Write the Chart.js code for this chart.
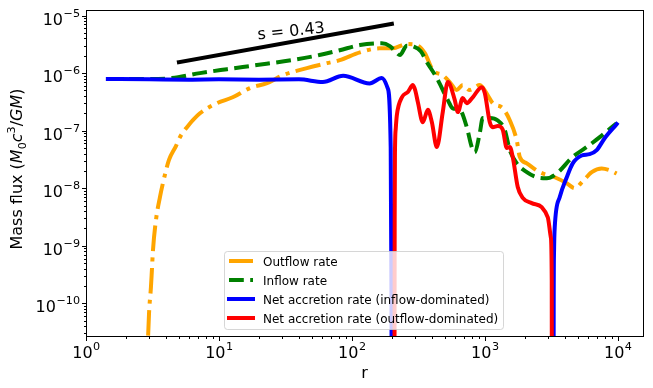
<!DOCTYPE html>
<html>
<head>
<meta charset="utf-8">
<script src="https://cdn.jsdelivr.net/npm/chart.js@4.4.0/dist/chart.umd.min.js"></script>
<style>
  html, body { margin: 0; padding: 0; background: #fff; }
  #wrap { width: 653px; height: 388px; }
</style>
</head>
<body>
<div id="wrap"><canvas id="fluxChart"></canvas></div>
<script>
// values (r, mass flux in M0 c^3 / GM)
const outflowR = [2.86, 2.98, 3.08, 3.13, 3.19, 3.36, 3.6, 3.79, 4.21, 4.75, 5.09, 5.75, 7.2, 9.66, 12.7, 17.1, 23, 30.3, 45.9, 64.9, 81, 115, 162, 203, 259, 308, 354, 406, 483, 545, 615, 683, 771, 917, 1054, 1148, 1366, 1542, 1740, 1833, 2070, 2590, 3360, 4140, 4750, 5460, 6380, 7580, 8710, 9820];
const outflowRate = [5e-12, 6.7e-11, 1.9e-10, 3.7e-10, 8.3e-10, 2.8e-9, 7e-9, 1.22e-8, 3.1e-8, 5.4e-8, 7.7e-8, 1.15e-7, 2.0e-7, 3.0e-7, 3.8e-7, 5.5e-7, 6.7e-7, 9.2e-7, 1.22e-6, 1.49e-6, 1.68e-6, 2.3e-6, 2.7e-6, 2.7e-6, 3.2e-6, 3.07e-6, 2.23e-6, 1.13e-6, 9.2e-7, 7e-7, 5.1e-7, 6.2e-7, 5.1e-7, 6.2e-7, 4.1e-7, 3.0e-7, 2.45e-7, 1.52e-7, 6.8e-8, 3.5e-8, 2.7e-8, 1.9e-8, 1.55e-8, 1.22e-8, 1.0e-8, 1.32e-8, 1.9e-8, 2.2e-8, 2.05e-8, 1.8e-8];

const inflowR = [1.46, 3.0, 4.43, 7.2, 11.5, 19.3, 35, 57, 81, 115, 168, 193, 215, 230, 259, 290, 330, 367, 436, 527, 574, 649, 732, 798, 841, 917, 966, 1091, 1253, 1414, 1542, 1740, 2070, 2460, 2925, 3475, 4590, 5850, 7330, 9820];
const inflowRate = [7.9e-7, 7.9e-7, 8.2e-7, 1.0e-6, 1.17e-6, 1.38e-6, 1.68e-6, 2.06e-6, 2.5e-6, 3.07e-6, 3.3e-6, 2.95e-6, 2.3e-6, 2.06e-6, 3.0e-6, 2.9e-6, 2.4e-6, 1.55e-6, 8.2e-7, 3.4e-7, 2.45e-7, 2.3e-7, 1.15e-7, 5.2e-8, 4.2e-8, 9.1e-8, 1.66e-7, 1.66e-7, 1.5e-7, 1.03e-7, 4.6e-8, 2.7e-8, 1.9e-8, 1.55e-8, 1.49e-8, 1.8e-8, 3.5e-8, 5.2e-8, 7.7e-8, 1.35e-7];

// net accretion, inflow-dominated (null = masked where net < 0)
const netInR = [1.46, 3, 6, 10, 20, 40, 60.5, 86, 136, 168, 186, 196, 198.7, 199.5, 1000, 3290, 3300, 3320, 3360, 3665, 4140, 4590, 5360, 6150, 6950, 7980, 9820];
const netInRate = [7.9e-7, 7.8e-7, 7.7e-7, 7.8e-7, 7.7e-7, 7.8e-7, 7.0e-7, 9.0e-7, 6.6e-7, 8.2e-7, 5.5e-7, 5e-8, 1e-10, 1e-13, null, 1e-13, 1e-10, 8e-10, 2.1e-9, 7e-9, 1.55e-8, 2.7e-8, 3.7e-8, 3.9e-8, 4.6e-8, 7.4e-8, 1.3e-7];

// net accretion, outflow-dominated
const netOutR = [209, 210, 211, 214, 218, 238, 264, 288, 300, 314, 342, 373, 400, 436, 483, 527, 595, 627, 683, 732, 812, 949, 1000, 1091, 1148, 1253, 1366, 1464, 1542, 1623, 1770, 1930, 2256, 2680, 2980, 3140, 3190, 3200];
const netOutRate = [1e-13, 3e-9, 4e-8, 1.1e-7, 1.86e-7, 3.8e-7, 4.7e-7, 6.2e-7, 5.0e-7, 3.1e-7, 1.4e-7, 2.3e-7, 1.4e-7, 5.2e-8, 2.1e-7, 7e-7, 3.4e-7, 2.1e-7, 3.7e-7, 3.0e-7, 3.8e-7, 5.7e-7, 4.5e-7, 1.4e-7, 1.15e-7, 1.2e-7, 1.03e-7, 5e-8, 5.2e-8, 3.5e-8, 1.05e-8, 6.8e-9, 5.5e-9, 4.7e-9, 3.1e-9, 1.4e-9, 2.5e-10, 1e-13];

// reference power-law segment
const slopeR = [5, 200];
const slopeVal = [1.55e-6, 7.2e-6];
const slopeLabel = 's = 0.43';

const xTickExps = [0, 1, 2, 3, 4];
const yTickExps = [-10, -9, -8, -7, -6, -5];
const seriesNames = ['Outflow rate', 'Inflow rate', 'Net accretion rate (inflow-dominated)', 'Net accretion rate (outflow-dominated)'];

const FONT = '"DejaVu Sans"';
const dashOut = [25.6, 6.4, 4, 6.4];
const dashIn = [14.8, 6.4];

function toPoints(rs, vals) {
    return rs.map((r, i) => ({ x: r, y: vals[i] }));
}

function powLabel(ctx, exp, px, baseY, align) {
    const base = '10';
    const sup = exp < 0 ? '\u2212' + (-exp) : String(exp);
    ctx.font = '16px ' + FONT;
    const wb = ctx.measureText(base).width;
    ctx.font = '11.2px ' + FONT;
    const ws = ctx.measureText(sup).width;
    const x0 = align === 'center' ? px - (wb + ws) / 2 : px - (wb + ws);
    ctx.textAlign = 'left';
    ctx.textBaseline = 'alphabetic';
    ctx.font = '16px ' + FONT;
    ctx.fillText(base, x0, baseY);
    ctx.font = '11.2px ' + FONT;
    ctx.fillText(sup, x0 + wb + 0.5, baseY - 8);
}

const axesDecor = {
    id: 'axesDecor',
    afterDatasetsDraw(chart) {
        const { ctx, chartArea: a, scales: { x, y } } = chart;
        ctx.save();
        ctx.fillStyle = '#000';
        ctx.strokeStyle = '#000';
        ctx.lineWidth = 1;
        ctx.setLineDash([]);

        // frame
        ctx.strokeRect(a.left + 0.5, a.top + 0.5, a.right - a.left, a.bottom - a.top);

        // tick marks
        const tick = (x1, y1, x2, y2) => {
            ctx.beginPath(); ctx.moveTo(x1, y1); ctx.lineTo(x2, y2); ctx.stroke();
        };
        for (let e = -1; e <= 4; e++) {
            for (let k = 1; k < 10; k++) {
                const v = k * Math.pow(10, e);
                if (v < x.min || v > x.max) continue;
                const px = Math.round(x.getPixelForValue(v)) + 0.5;
                tick(px, a.bottom + 1, px, a.bottom + 1 + (k === 1 ? 4 : 2));
            }
        }
        for (let e = -11; e <= -5; e++) {
            for (let k = 1; k < 10; k++) {
                const v = k * Math.pow(10, e);
                if (v < y.min || v > y.max) continue;
                const py = Math.round(y.getPixelForValue(v)) + 0.5;
                tick(a.left, py, a.left - (k === 1 ? 4 : 2), py);
            }
        }

        // tick labels
        xTickExps.forEach(e => powLabel(ctx, e, x.getPixelForValue(Math.pow(10, e)), a.bottom + 22, 'center'));
        yTickExps.forEach(e => powLabel(ctx, e, a.left - 6.5, y.getPixelForValue(Math.pow(10, e)) + 9, 'right'));

        // x title
        ctx.font = '16px ' + FONT;
        ctx.textAlign = 'center';
        ctx.fillText('r', (a.left + a.right) / 2, 378);

        // y title with math parts
        const parts = [
            { t: 'Mass flux (', f: '16px', dy: 0 },
            { t: 'M', f: 'italic 16px', dy: 0 },
            { t: '0', f: '11.2px', dy: 3.5 },
            { t: 'c', f: 'italic 16px', dy: 0 },
            { t: '3', f: '11.2px', dy: -7 },
            { t: '/', f: '16px', dy: 0 },
            { t: 'GM', f: 'italic 16px', dy: 0 },
            { t: ')', f: '16px', dy: 0 }
        ];
        let total = 0;
        parts.forEach(p => { ctx.font = p.f + ' ' + FONT; p.w = ctx.measureText(p.t).width; total += p.w; });
        ctx.save();
        ctx.translate(22, 169);
        ctx.rotate(-Math.PI / 2);
        ctx.textAlign = 'left';
        let cx = -total / 2;
        parts.forEach(p => { ctx.font = p.f + ' ' + FONT; ctx.fillText(p.t, cx, p.dy); cx += p.w; });
        ctx.restore();

        // slope annotation
        ctx.save();
        ctx.translate(258, 39.5);
        ctx.rotate(-6 * Math.PI / 180);
        ctx.font = '16px ' + FONT;
        ctx.textAlign = 'left';
        ctx.fillText(slopeLabel, 0, 0);
        ctx.restore();

        // legend
        const lx = 224.5, ly = 251.5, lw = 279, lh = 78;
        ctx.beginPath();
        ctx.roundRect(lx, ly, lw, lh, 3);
        ctx.fillStyle = 'rgba(255,255,255,0.8)';
        ctx.fill();
        ctx.strokeStyle = 'rgba(204,204,204,0.8)';
        ctx.stroke();
        const styles = [
            { c: 'orange', d: dashOut, cap: 'butt' },
            { c: 'green', d: dashIn, cap: 'butt' },
            { c: 'blue', d: [], cap: 'square' },
            { c: 'red', d: [], cap: 'square' }
        ];
        styles.forEach((s, i) => {
            const ry = 261 + i * 19;
            ctx.beginPath();
            ctx.strokeStyle = s.c;
            ctx.lineWidth = 4;
            ctx.lineCap = s.cap;
            ctx.setLineDash(s.d);
            ctx.moveTo(229, ry);
            ctx.lineTo(253, ry);
            ctx.stroke();
            ctx.setLineDash([]);
            ctx.fillStyle = '#000';
            ctx.font = '12px ' + FONT;
            ctx.textAlign = 'left';
            ctx.fillText(seriesNames[i], 263, ry + 4.5);
        });
        ctx.restore();
    }
};

const common = {
    pointRadius: 0,
    borderWidth: 4,
    fill: false,
    cubicInterpolationMode: 'monotone',
    borderJoinStyle: 'round',
    spanGaps: false,
    clip: 0
};

new Chart(document.getElementById('fluxChart'), {
    type: 'line',
    data: {
        datasets: [
            { ...common, label: 's', data: toPoints(slopeR, slopeVal), borderColor: '#000', borderCapStyle: 'square', cubicInterpolationMode: 'default', tension: 0, order: 0 },
            { ...common, label: seriesNames[3], data: toPoints(netOutR, netOutRate), borderColor: 'red', borderCapStyle: 'square', order: 1 },
            { ...common, label: seriesNames[2], data: toPoints(netInR, netInRate), borderColor: 'blue', borderCapStyle: 'square', order: 2 },
            { ...common, label: seriesNames[1], data: toPoints(inflowR, inflowRate), borderColor: 'green', borderDash: dashIn, borderCapStyle: 'butt', order: 3 },
            { ...common, label: seriesNames[0], data: toPoints(outflowR, outflowRate), borderColor: 'orange', borderDash: dashOut, borderCapStyle: 'butt', order: 4 }
        ]
    },
    options: {
        responsive: true,
        maintainAspectRatio: false,
        animation: false,
        layout: { padding: { left: 86, right: 10, top: 10, bottom: 52 } },
        scales: {
            x: { type: 'logarithmic', min: 1, max: 15500, display: false },
            y: { type: 'logarithmic', min: 2.7e-11, max: 1.25e-5, display: false }
        },
        plugins: {
            legend: { display: false },
            tooltip: { enabled: false }
        }
    },
    plugins: [axesDecor]
});
</script>
</body>
</html>
